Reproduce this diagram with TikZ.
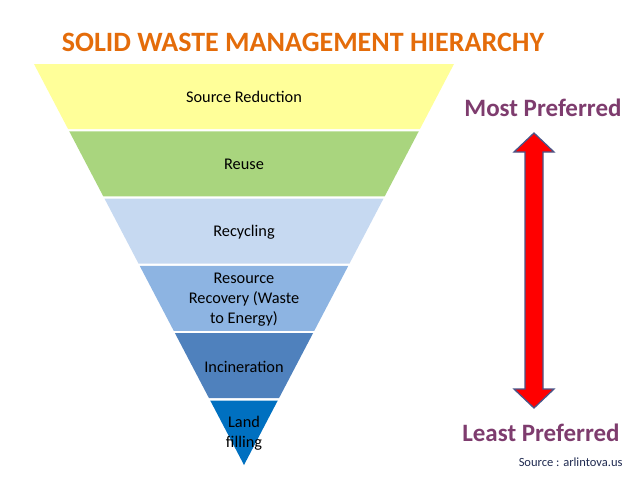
\documentclass[tikz,border=0pt]{standalone}
\usepackage{fontspec}
\setmainfont{Carlito}
\usetikzlibrary{positioning,calc}
\usepackage{xcolor}
\definecolor{bandA}{HTML}{FFFF99}
\definecolor{bandB}{HTML}{A9D57E}
\definecolor{bandC}{HTML}{C6D9F1}
\definecolor{bandD}{HTML}{8DB4E2}
\definecolor{bandE}{HTML}{4F81BD}
\definecolor{bandF}{HTML}{0070C0}
\definecolor{titleorange}{HTML}{E46C0A}
\definecolor{prefpurple}{HTML}{7E3C6E}
\definecolor{arrowedge}{HTML}{4A5588}
\definecolor{srcnavy}{HTML}{1F2A50}

\begin{document}
\begin{tikzpicture}[x=1pt, y=-1pt,
    lbl/.style={font=\fontsize{16.3}{20}\selectfont, align=center, text=black},
    pref/.style={font=\fontsize{25}{28}\selectfont\bfseries, text=prefpurple}]
    \useasboundingbox (0,0) rectangle (638,479);
        % hierarchy bands
        \foreach \t/\b/\col in {64/129/bandA, 131.3/196.3/bandB, 198.6/263.6/bandC, 265.9/330.9/bandD, 333.2/398.2/bandE}
            \fill[\col] ({244-0.5237*(465-\t)},\t) -- ({244+0.5237*(465-\t)},\t) -- ({244+0.5237*(465-\b)},\b) -- ({244-0.5237*(465-\b)},\b) -- cycle;
        \fill[bandF] ({244-0.5237*(465-400.5)},400.5) -- ({244+0.5237*(465-400.5)},400.5) -- (244,465) -- cycle;

        \node[font=\fontsize{28}{32}\selectfont\bfseries, text=titleorange] (title) at (303,42) {SOLID WASTE MANAGEMENT HIERARCHY};

        \node[lbl] (srcred) at (244,97) {Source Reduction};
        \node[lbl] (reuse) at (244,164) {Reuse};
        \node[lbl] (recyc) at (244,232) {Recycling};
        \node[lbl] (recov) at (244,300) {Resource\\Recovery (Waste\\to Energy)};
        \node[lbl] (incin) at (244,367) {Incineration};
        \node[lbl] (landf) at (244,433) {Land\\filling};

        \node[pref] (most) at (543,108) {Most Preferred};
        \node[pref] (least) at (541,433) {Least Preferred};
        \node[font=\fontsize{12.5}{14}\selectfont, text=srcnavy, anchor=east] (source) at (626,462) {Source : arlintova.us};

        % double arrow
        \coordinate (uptip) at (534,133);
        \coordinate (downtip) at (534,408);
        \draw[fill=red, draw=arrowedge, line width=1.3pt, line join=miter] (uptip) -- ($(uptip)+(20,19)$) -- ($(uptip)+(9,19)$) -- ($(downtip)+(9,-19)$) -- ($(downtip)+(20,-19)$) -- (downtip) -- ($(downtip)+(-20,-19)$) -- ($(downtip)+(-9,-19)$) -- ($(uptip)+(-9,19)$) -- ($(uptip)+(-20,19)$) -- cycle;
    \end{tikzpicture}
\end{document}
